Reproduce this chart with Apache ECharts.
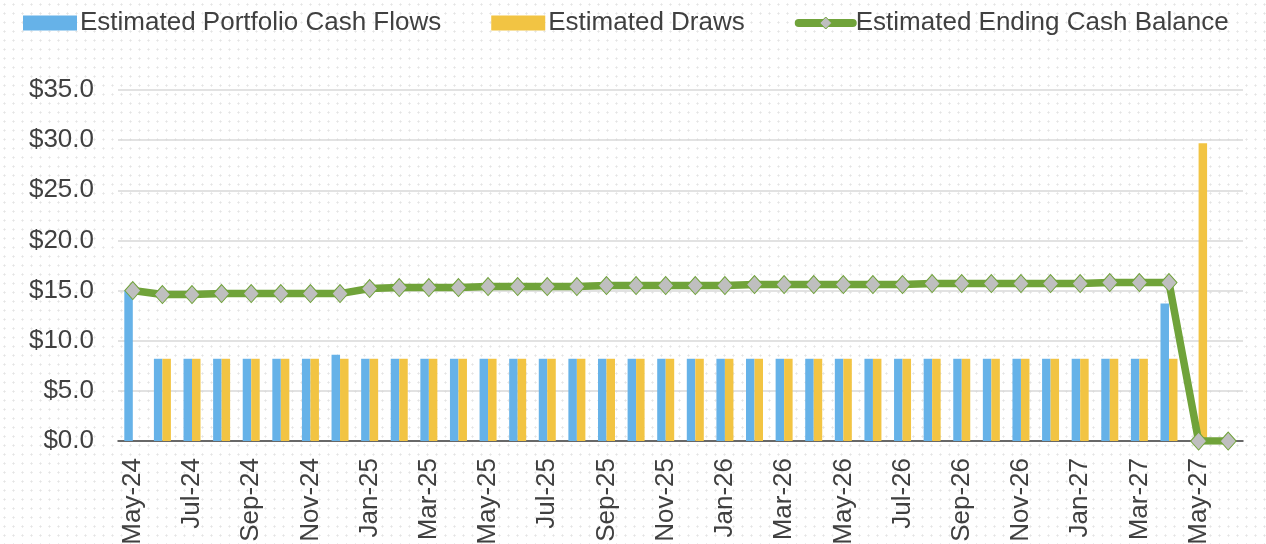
<!DOCTYPE html>
<html>
<head>
<meta charset="utf-8">
<script src="https://cdn.jsdelivr.net/npm/echarts@6/dist/echarts.min.js"></script>
<style>
  html, body { margin: 0; padding: 0; }
  body {
    width: 1266px; height: 544px; overflow: hidden;
    background-color: #ffffff;
    background-image: radial-gradient(circle, #e4e4e4 0.9px, transparent 1.2px);
    background-size: 9px 9px;
  }
  #chart { width: 1266px; height: 544px; }
</style>
</head>
<body>
<div id="chart"></div>
<script>
// Monthly periods, May-24 through Jun-27
const months = [
  'May-24','Jun-24','Jul-24','Aug-24','Sep-24','Oct-24','Nov-24','Dec-24',
  'Jan-25','Feb-25','Mar-25','Apr-25','May-25','Jun-25','Jul-25','Aug-25','Sep-25','Oct-25','Nov-25','Dec-25',
  'Jan-26','Feb-26','Mar-26','Apr-26','May-26','Jun-26','Jul-26','Aug-26','Sep-26','Oct-26','Nov-26','Dec-26',
  'Jan-27','Feb-27','Mar-27','Apr-27','May-27','Jun-27'
];

// Estimated Portfolio Cash Flows ($M)
const cashFlows = [
  15.0, 8.2, 8.2, 8.2, 8.2, 8.2, 8.2, 8.6,
  8.2, 8.2, 8.2, 8.2, 8.2, 8.2, 8.2, 8.2, 8.2, 8.2, 8.2, 8.2,
  8.2, 8.2, 8.2, 8.2, 8.2, 8.2, 8.2, 8.2, 8.2, 8.2, 8.2, 8.2,
  8.2, 8.2, 8.2, 13.7, 0, 0
];

// Estimated Draws ($M)
const draws = [
  0, 8.2, 8.2, 8.2, 8.2, 8.2, 8.2, 8.2,
  8.2, 8.2, 8.2, 8.2, 8.2, 8.2, 8.2, 8.2, 8.2, 8.2, 8.2, 8.2,
  8.2, 8.2, 8.2, 8.2, 8.2, 8.2, 8.2, 8.2, 8.2, 8.2, 8.2, 8.2,
  8.2, 8.2, 8.2, 8.2, 29.7, 0
];

// Estimated Ending Cash Balance ($M)
const endingBalance = [
  15.0, 14.6, 14.6, 14.7, 14.7, 14.7, 14.7, 14.7,
  15.2, 15.3, 15.3, 15.3, 15.4, 15.4, 15.4, 15.4, 15.5, 15.5, 15.5, 15.5,
  15.5, 15.6, 15.6, 15.6, 15.6, 15.6, 15.6, 15.7, 15.7, 15.7, 15.7, 15.7,
  15.7, 15.8, 15.8, 15.8, 0, 0
];

const yTicks = { min: 0, max: 35, step: 5 };

const textColor = '#404040';
const fontFamily = '"Liberation Sans", Arial, sans-serif';
const green = '#70A33A';

const chart = echarts.init(document.getElementById('chart'), null, { renderer: 'canvas' });

chart.setOption({
  backgroundColor: 'transparent',
  animation: false,
  textStyle: { fontFamily: fontFamily },
  legend: {
    top: 5,
    left: 18,
    itemWidth: 54,
    itemHeight: 15,
    itemGap: 50,
    textStyle: { fontSize: 26, color: textColor, fontFamily: fontFamily, padding: [0, 0, 0, -2] },
    data: [
      { name: 'Estimated Portfolio Cash Flows', icon: 'rect' },
      { name: 'Estimated Draws', icon: 'rect' },
      {
        name: 'Estimated Ending Cash Balance',
        lineStyle: { width: 8, color: green, cap: 'round' },
        itemStyle: { color: '#BFBFBF', borderColor: green, borderWidth: 1 }
      }
    ]
  },
  grid: {
    left: 118, right: 23, top: 90, bottom: 103,
    containLabel: false,
    outerBoundsMode: 'none'
  },
  xAxis: {
    type: 'category',
    data: months,
    boundaryGap: true,
    axisLine: { show: true, lineStyle: { color: '#404040', width: 1.5 } },
    axisTick: { show: false },
    axisLabel: {
      interval: 1,
      rotate: 90,
      margin: 17,
      fontSize: 26,
      color: textColor,
      fontFamily: fontFamily
    },
    splitLine: { show: false }
  },
  yAxis: {
    type: 'value',
    min: yTicks.min,
    max: yTicks.max,
    interval: yTicks.step,
    axisLine: { show: false },
    axisTick: { show: false },
    axisLabel: {
      margin: 24,
      fontSize: 26,
      color: textColor,
      fontFamily: fontFamily,
      formatter: v => '$' + v.toFixed(1)
    },
    splitLine: { lineStyle: { color: '#d9d9d9', width: 1.5 } }
  },
  series: [
    {
      name: 'Estimated Portfolio Cash Flows',
      type: 'bar',
      data: cashFlows,
      barWidth: 8.5,
      barGap: '0%',
      itemStyle: { color: '#66B2E8' }
    },
    {
      name: 'Estimated Draws',
      type: 'bar',
      data: draws,
      barWidth: 8.5,
      barGap: '0%',
      itemStyle: { color: '#F2C443' }
    },
    {
      name: 'Estimated Ending Cash Balance',
      type: 'line',
      data: endingBalance,
      symbol: 'diamond',
      symbolSize: [16, 18],
      lineStyle: { color: green, width: 7.5, join: 'round' },
      itemStyle: { color: '#BFBFBF', borderColor: green, borderWidth: 1 },
      z: 5
    }
  ]
});
</script>
</body>
</html>
